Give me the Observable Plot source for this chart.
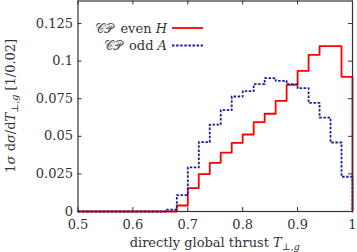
<!DOCTYPE html>
<html>
<head>
<meta charset="utf-8">
<script src="https://cdn.jsdelivr.net/npm/d3@7"></script>
<script src="https://cdn.jsdelivr.net/npm/@observablehq/plot@0.6"></script>
<style>
  html, body { margin: 0; padding: 0; background: white; }
</style>
</head>
<body>
<div id="chart"></div>
<script>
const binEdges = [0.50,0.52,0.54,0.56,0.58,0.60,0.62,0.64,0.66,0.68,0.70,0.72,0.74,0.76,0.78,0.80,0.82,0.84,0.86,0.88,0.90,0.92,0.94,0.96,0.98,1.00];
const evenH = [0,0,0,0,0,0,0,0,0,0.004,0.0156,0.0249,0.0324,0.0392,0.0457,0.0512,0.0594,0.065,0.0736,0.0842,0.0935,0.1042,0.11,0.11,0.0896];
const oddA  = [0,0,0,0,0,0,0,0,0.0013,0.0109,0.0293,0.0461,0.0578,0.0674,0.0765,0.080,0.0847,0.0887,0.0869,0.0847,0.082,0.0722,0.0625,0.0459,0.0231];
const xTicks = [0.5,0.6,0.7,0.8,0.9,1];
const xTickLabels = ["0.5","0.6","0.7","0.8","0.9","1"];
const yTicks = [0,0.025,0.05,0.075,0.1,0.125];
const yTickLabels = ["0","0.025","0.05","0.075","0.1","0.125"];

function steps(values) {
  const pts = values.map((v, i) => ({x: binEdges[i], y: v}));
  pts.push({x: binEdges[binEdges.length - 1], y: 0});
  return pts;
}

const W = 357, H = 252;
const mL = 77.5, mR = 5, mT = 0.5, mB = 41;
const pw = W - mL - mR, ph = H - mT - mB;
const tickLen = 4;
const axisColor = "#333";
const red = "#ff0000", blue = "#1c1c9c", blueDash = "2.5,1.6";

const xLab = new Map(xTicks.map((t, i) => [t, xTickLabels[i]]));
const yLab = new Map(yTicks.map((t, i) => [t, yTickLabels[i]]));

const chart = Plot.plot({
  width: W, height: H,
  marginLeft: mL, marginRight: mR, marginTop: mT, marginBottom: mB,
  x: {domain: [0.5, 1], axis: null},
  y: {domain: [0, 0.14], axis: null},
  style: {fontFamily: "DejaVu Serif", fontSize: "13px", color: axisColor, background: "white"},
  marks: [
    Plot.line(steps(evenH), {x: "x", y: "y", curve: "step-after", stroke: red, strokeWidth: 1.8}),
    Plot.line(steps(oddA), {x: "x", y: "y", curve: "step-after", stroke: blue, strokeWidth: 1.8, strokeDasharray: blueDash, strokeLinecap: "butt"}),
    Plot.tickX(xTicks, {x: d => d, insetTop: ph - tickLen, stroke: axisColor}),
    Plot.tickX(xTicks, {x: d => d, insetBottom: ph - tickLen, stroke: axisColor}),
    Plot.tickY(yTicks, {y: d => d, insetRight: pw - tickLen, stroke: axisColor}),
    Plot.tickY(yTicks, {y: d => d, insetLeft: pw - tickLen, stroke: axisColor}),
    Plot.axisX(xTicks, {anchor: "bottom", tickSize: 0, tickPadding: 8, tickFormat: d => xLab.get(d), label: null, fill: axisColor}),
    Plot.axisY(yTicks, {anchor: "left", tickSize: 0, tickPadding: 5, tickFormat: d => yLab.get(d), label: null, fill: axisColor}),
    Plot.frame({stroke: axisColor, strokeWidth: 1.2})
  ]
});

const svg = d3.select(chart);
const font = "DejaVu Serif";

// x-axis title
const xt = svg.append("text")
  .attr("x", mL + pw / 2).attr("y", 246.5)
  .attr("text-anchor", "middle").attr("fill", axisColor)
  .style("font-family", font).style("font-size", "13px");
xt.append("tspan").text("directly global thrust ");
xt.append("tspan").attr("font-style", "italic").text("T");
xt.append("tspan").attr("font-size", "9.5px").attr("dy", "3").text("⊥,");
xt.append("tspan").attr("font-size", "9.5px").attr("font-style", "italic").text("g");

// y-axis title
const yt = svg.append("text")
  .attr("transform", `translate(14.5,${mT + ph / 2}) rotate(-90)`)
  .attr("text-anchor", "middle").attr("fill", axisColor)
  .style("font-family", font).style("font-size", "13px");
yt.append("tspan").text("1");
yt.append("tspan").attr("font-style", "italic").text("σ");
yt.append("tspan").text(" d");
yt.append("tspan").attr("font-style", "italic").text("σ");
yt.append("tspan").text("/d");
yt.append("tspan").attr("font-style", "italic").text("T");
yt.append("tspan").attr("font-size", "9.5px").attr("dy", "3").text("⊥,");
yt.append("tspan").attr("font-size", "9.5px").attr("font-style", "italic").text("g");
yt.append("tspan").attr("dy", "-3").text(" [1/0.02]");

// legend
const legend = [
  {cp: "𝒞𝒫", word: " even ", sym: "H", color: red, dash: null, w: 1.8, y: 28},
  {cp: "𝒞𝒫", word: " odd ", sym: "A", color: blue, dash: blueDash, w: 1.8, y: 45.5}
];
legend.forEach(l => {
  const t = svg.append("text")
    .attr("x", 167).attr("y", l.y + 4.5)
    .attr("text-anchor", "end").attr("fill", axisColor)
    .style("font-family", font).style("font-size", "13px");
  t.append("tspan").style("font-family", "DejaVu Sans").attr("font-size", "12.5px").attr("fill", "#555").text(l.cp);
  t.append("tspan").attr("dx", 3).style("font-family", font).text(l.word);
  t.append("tspan").attr("font-style", "italic").style("font-family", font).text(l.sym);
  svg.append("line")
    .attr("x1", 172).attr("x2", 203).attr("y1", l.y).attr("y2", l.y)
    .attr("stroke", l.color).attr("stroke-width", l.w)
    .attr("stroke-dasharray", l.dash);
});

document.getElementById("chart").appendChild(chart);
</script>
</body>
</html>
